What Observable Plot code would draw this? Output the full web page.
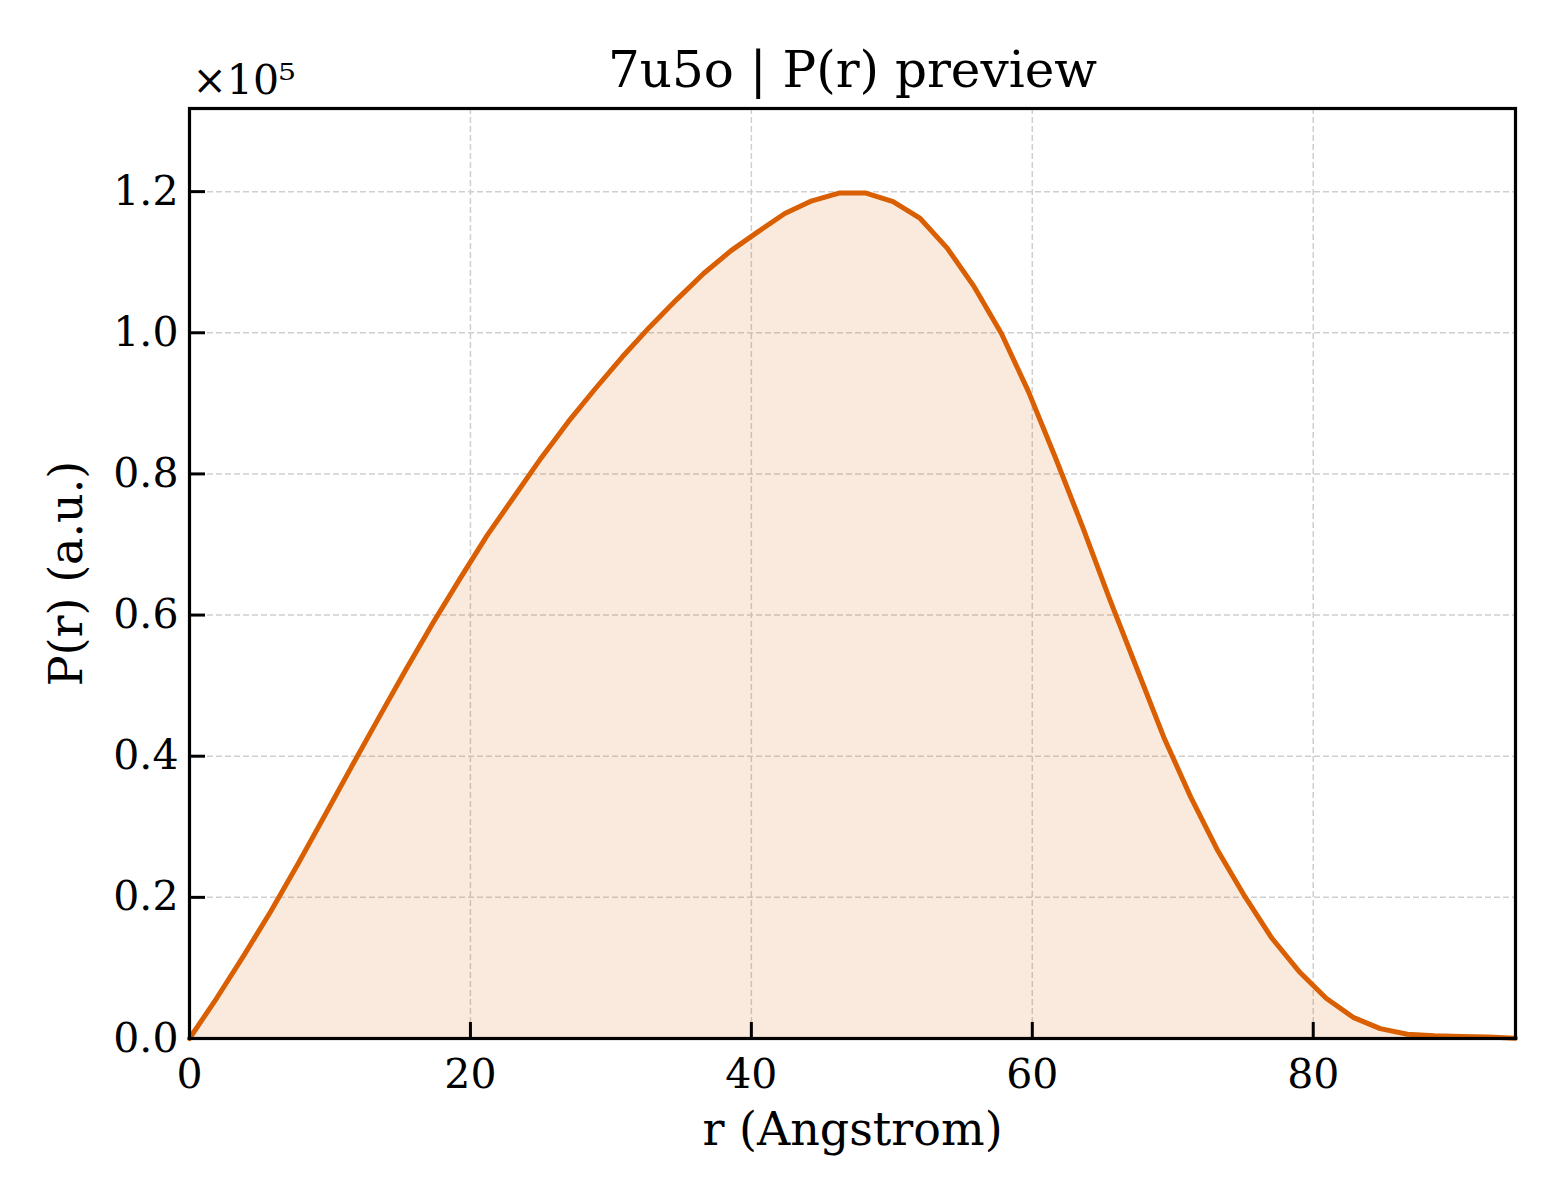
<!DOCTYPE html>
<html>
<head>
<meta charset="utf-8">
<script src="https://cdn.jsdelivr.net/npm/d3@7"></script>
<script src="https://cdn.jsdelivr.net/npm/@observablehq/plot@0.6"></script>
<style>
  html, body { margin: 0; padding: 0; background: #ffffff; }
  #chart svg { display: block; }
</style>
</head>
<body>
<div id="chart"></div>
<script>
// r (Angstrom)
const rValues = [0, 1.93, 3.85, 5.78, 7.71, 9.63, 11.56, 13.49, 15.41, 17.34, 19.27, 21.19, 23.12, 25.05, 26.97, 28.9, 30.82, 32.75, 34.68, 36.6, 38.53, 40.46, 42.38, 44.31, 46.24, 48.16, 50.09, 52.02, 53.94, 55.87, 57.8, 59.72, 61.65, 63.58, 65.5, 67.43, 69.36, 71.28, 73.21, 75.14, 77.06, 78.99, 80.92, 82.84, 84.77, 86.7, 88.62, 90.55, 92.48, 94.4];
// P(r) (a.u.)
const pValues = [0, 5700, 11700, 18000, 24700, 31600, 38600, 45500, 52300, 58900, 65200, 71300, 76800, 82300, 87400, 92100, 96600, 100800, 104700, 108400, 111600, 114300, 116900, 118700, 119800, 119800, 118600, 116200, 112000, 106500, 99900, 91700, 82300, 72500, 62300, 52500, 42700, 34200, 26600, 20100, 14200, 9500, 5700, 3000, 1400, 600, 400, 300, 200, 50];
const xTicks = [0, 20, 40, 60, 80];
const yTicks = [0, 20000, 40000, 60000, 80000, 100000, 120000];
const titleText = "7u5o | P(r) preview";
const xLabel = "r (Angstrom)";
const yLabel = "P(r) (a.u.)";
const offsetText = "×10⁵";

const data = rValues.map((r, i) => ({r, p: pValues[i]}));
const yMax = d3.max(pValues) * 1.1;

const W = 1560, H = 1200;
const mL = 189, mR = 45, mT = 108, mB = 162;
const frameW = W - mL - mR, frameH = H - mT - mB;
const tickLen = 16;
const orange = "#d95f02";

const chart = Plot.plot({
  width: W,
  height: H,
  marginLeft: mL,
  marginRight: mR,
  marginTop: mT,
  marginBottom: mB,
  style: {fontFamily: "'DejaVu Serif', serif", background: "#ffffff", color: "#000000"},
  x: {domain: [0, d3.max(rValues)]},
  y: {domain: [0, yMax]},
  marks: [
    Plot.gridX(xTicks, {stroke: "#cfcfcf", strokeOpacity: 1, strokeWidth: 1.5, strokeDasharray: "6,3"}),
    Plot.gridY(yTicks, {stroke: "#cfcfcf", strokeOpacity: 1, strokeWidth: 1.5, strokeDasharray: "6,3"}),
    Plot.areaY(data, {x: "r", y: "p", fill: orange, fillOpacity: 0.13}),
    Plot.lineY(data, {x: "r", y: "p", stroke: orange, strokeWidth: 5}),
    Plot.tickX(xTicks, {x: d => d, stroke: "#000", strokeWidth: 3, insetTop: frameH - tickLen}),
    Plot.tickY(yTicks, {y: d => d, stroke: "#000", strokeWidth: 3, insetRight: frameW - tickLen}),
    Plot.axisX(xTicks, {tickSize: 0, tickPadding: 20, fontSize: 41, label: null, fill: "#000"}),
    Plot.axisY(yTicks, {tickSize: 0, tickPadding: 11, fontSize: 41, label: null, fill: "#000",
      tickFormat: d => (d / 1e5).toFixed(1)}),
    Plot.frame({stroke: "#000", strokeWidth: 3.2}),
    Plot.text([titleText], {text: d => d, frameAnchor: "top", lineAnchor: "middle", textAnchor: "middle", dy: -38, fontSize: 50, fill: "#000"}),
    Plot.text([xLabel], {text: d => d, frameAnchor: "bottom", lineAnchor: "middle", textAnchor: "middle", dy: 92, fontSize: 46, fill: "#000"}),
    Plot.text([yLabel], {text: d => d, frameAnchor: "left", lineAnchor: "middle", textAnchor: "middle", dx: -122, rotate: -90, fontSize: 46, fill: "#000"}),
    Plot.text([offsetText], {text: d => d, frameAnchor: "top-left", lineAnchor: "middle", textAnchor: "start", dx: 3, dy: -28, fontSize: 41, fill: "#000"})
  ]
});
document.getElementById("chart").appendChild(chart);
</script>
</body>
</html>
